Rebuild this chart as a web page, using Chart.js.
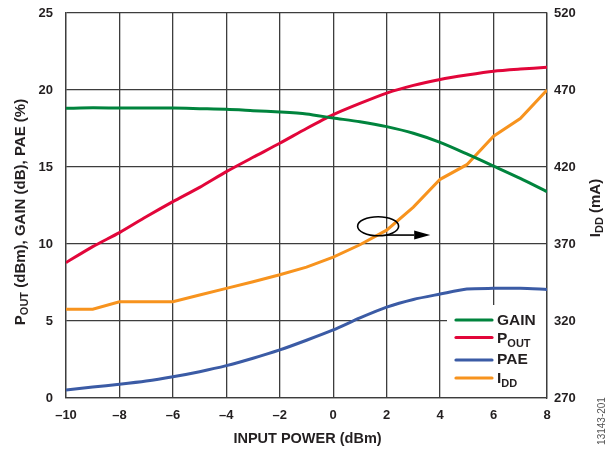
<!DOCTYPE html>
<html>
<head>
<meta charset="utf-8">
<script src="https://cdn.jsdelivr.net/npm/chart.js@4/dist/chart.umd.min.js"></script>
<style>
html,body{margin:0;padding:0;background:#fff;}
#wrap{position:relative;width:608px;height:450px;}
</style>
</head>
<body>
<div id="wrap"><canvas id="c" width="608" height="450"></canvas></div>
<script>
// ---- data ----
const inputPower = [-10,-9,-8,-7,-6,-5,-4,-3,-2,-1,0,1,2,3,4,5,6,7,8];
const gain = [18.81,18.85,18.83,18.83,18.83,18.79,18.75,18.66,18.57,18.44,18.18,17.94,17.62,17.19,16.6,15.85,15.06,14.26,13.4];
const pout = [8.79,9.83,10.74,11.77,12.75,13.68,14.7,15.63,16.54,17.5,18.4,19.13,19.8,20.3,20.68,20.97,21.22,21.36,21.47];
const pae  = [0.52,0.71,0.89,1.1,1.38,1.71,2.1,2.58,3.12,3.75,4.42,5.2,5.9,6.4,6.75,7.08,7.12,7.12,7.05];
const idd  = [327.6,327.6,332.5,332.5,332.5,336.9,341.2,345.5,350,355,361.5,369.5,379,394,412,421.5,440,451.5,470];

const xTicks = {min:-10, max:8, step:2};
const yLeftTicks = {min:0, max:25, step:5};
const yRightTicks = {min:270, max:520, step:50};

const seriesNames = ['GAIN','POUT','PAE','IDD'];
const legendParts = [
  [['GAIN',false]],
  [['P',false],['OUT',true]],
  [['PAE',false]],
  [['I',false],['DD',true]]
];
const leftTitle = [['P',false],['OUT',true],[' (dBm), GAIN (dB), PAE (%)',false]];
const rightTitle = [['I',false],['DD',true],[' (mA)',false]];
const xTitle = 'INPUT POWER (dBm)';
const figId = '13143-201';

const colors = ['#00843D','#E2063A','#3B5BA5','#F7931E'];

function pts(arr){ return inputPower.map((x,i)=>({x:x,y:arr[i]})); }

const FONT = 'Arial, "Liberation Sans", sans-serif';

function richWidth(ctx, parts, size, subSize){
  let w=0;
  for(const [t,sub] of parts){
    ctx.font = 'bold '+(sub?subSize:size)+'px '+FONT;
    w += ctx.measureText(t).width;
  }
  return w;
}
function drawRich(ctx, parts, x, y, size, subSize, subDrop){
  let cx = x;
  for(const [t,sub] of parts){
    ctx.font = 'bold '+(sub?subSize:size)+'px '+FONT;
    ctx.fillText(t, cx, sub ? y+subDrop : y);
    cx += ctx.measureText(t).width;
  }
}

const decor = {
  id:'decor',
  afterDatasetsDraw(chart){
    const ctx = chart.ctx;
    const xs = chart.scales.x, y1 = chart.scales.y1, ca = chart.chartArea;
    ctx.save();
    // annotation ellipse + arrow (pointing to right axis)
    ctx.strokeStyle = '#000'; ctx.fillStyle = '#000'; ctx.lineWidth = 1.6;
    const ex = xs.getPixelForValue(1.68), ey = y1.getPixelForValue(381.5);
    ctx.beginPath(); ctx.ellipse(ex, ey, 20.5, 9.5, 0, 0, Math.PI*2); ctx.stroke();
    const ay = y1.getPixelForValue(375.8);
    const a0 = xs.getPixelForValue(1.98), aTip = xs.getPixelForValue(3.63), aBase = xs.getPixelForValue(3.03);
    ctx.beginPath(); ctx.moveTo(a0, ay); ctx.lineTo(aBase, ay); ctx.stroke();
    ctx.beginPath(); ctx.moveTo(aTip, ay); ctx.lineTo(aBase, ay-4.5); ctx.lineTo(aBase, ay+4.5); ctx.closePath(); ctx.fill();

    // legend box
    const lx0 = ca.right - 100, ly0 = ca.bottom - 93;
    ctx.fillStyle = '#fff';
    ctx.fillRect(lx0, ly0, ca.right - lx0 - 1, ca.bottom - ly0 - 1);
    const rowY = [320.5, 339, 359.5, 378.5];
    const lineY = [320, 337.5, 360, 378];
    chart.data.datasets.forEach((ds,i)=>{
      ctx.strokeStyle = ds.borderColor; ctx.lineWidth = 3.2; ctx.lineCap='round';
      ctx.beginPath(); ctx.moveTo(lx0+9, lineY[i]); ctx.lineTo(lx0+45, lineY[i]); ctx.stroke();
      ctx.fillStyle = '#231F20'; ctx.textBaseline='middle'; ctx.textAlign='left';
      drawRich(ctx, legendParts[i], lx0+50, rowY[i], 15.5, 11, 5);
    });

    // axis titles
    ctx.fillStyle = '#231F20'; ctx.textBaseline='middle'; ctx.textAlign='left';
    ctx.save();
    ctx.translate(21, 212); ctx.rotate(-Math.PI/2);
    let w = richWidth(ctx, leftTitle, 15, 11);
    drawRich(ctx, leftTitle, -w/2, 0, 15, 11, 4);
    ctx.restore();
    ctx.save();
    ctx.translate(596, 208); ctx.rotate(-Math.PI/2);
    w = richWidth(ctx, rightTitle, 15, 11);
    drawRich(ctx, rightTitle, -w/2, 0, 15, 11, 4);
    ctx.restore();
    ctx.font = 'bold 14.5px '+FONT; ctx.textAlign='center';
    ctx.fillText(xTitle, (ca.left+ca.right)/2+1, 439);
    ctx.save();
    ctx.translate(602, 421); ctx.rotate(-Math.PI/2);
    ctx.font = '10px '+FONT; ctx.fillStyle='#555'; ctx.textAlign='center';
    ctx.fillText(figId, 0, 0);
    ctx.restore();
    ctx.restore();
  }
};

const gridColor = '#3d3d3d';
function fixVert(width){ return s=>{ s.width = width; s.paddingTop = 0; s.paddingBottom = 0; }; }
new Chart(document.getElementById('c'), {
  type:'line',
  data:{
    datasets:[
      {label:seriesNames[0], data:pts(gain), borderColor:colors[0], yAxisID:'y', tension:0.25},
      {label:seriesNames[1], data:pts(pout), borderColor:colors[1], yAxisID:'y', tension:0.25},
      {label:seriesNames[2], data:pts(pae),  borderColor:colors[2], yAxisID:'y', tension:0.25},
      {label:seriesNames[3], data:pts(idd),  borderColor:colors[3], yAxisID:'y1', tension:0}
    ]
  },
  options:{
    responsive:false, animation:false,
    layout:{padding:{top:13,left:0,right:0,bottom:0}},
    elements:{point:{radius:0}, line:{borderWidth:3, fill:false}},
    plugins:{legend:{display:false}, tooltip:{enabled:false}},
    scales:{
      x:{type:'linear', min:xTicks.min, max:xTicks.max,
         ticks:{stepSize:xTicks.step, color:'#231F20', font:{family:FONT, size:13, weight:'bold'}, padding:10,
                callback:v=> v<0 ? '\u2013'+Math.abs(v) : String(v)},
         grid:{color:gridColor, lineWidth:1.3, drawTicks:false},
         border:{color:gridColor, width:1.3},
         afterFit:s=>{s.height = 52; s.paddingLeft = 0; s.paddingRight = 0;}},
      y:{position:'left', min:yLeftTicks.min, max:yLeftTicks.max,
         ticks:{stepSize:yLeftTicks.step, color:'#231F20', font:{family:FONT, size:13, weight:'bold'}, padding:13},
         grid:{color:gridColor, lineWidth:1.3, drawTicks:false},
         border:{color:gridColor, width:1.3},
         afterFit:fixVert(66)},
      y1:{position:'right', min:yRightTicks.min, max:yRightTicks.max,
         ticks:{stepSize:yRightTicks.step, color:'#231F20', font:{family:FONT, size:13, weight:'bold'}, padding:7},
         grid:{display:false, drawTicks:false},
         border:{color:gridColor, width:1.3},
         afterFit:fixVert(61)}
    }
  },
  plugins:[decor]
});
</script>
</body>
</html>
